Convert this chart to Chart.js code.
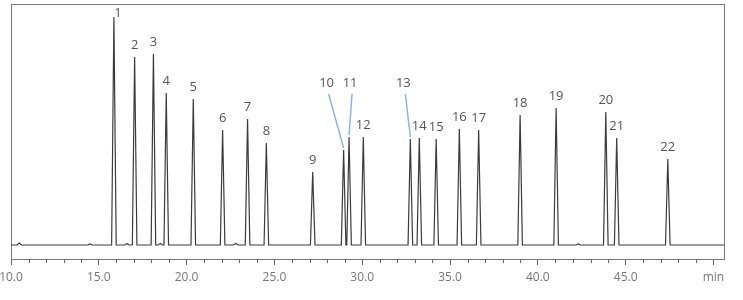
<!DOCTYPE html>
<html>
<head>
<meta charset="utf-8">
<script src="https://cdn.jsdelivr.net/npm/chart.js@4.4.0/dist/chart.umd.min.js"></script>
<style>
  html, body { margin: 0; padding: 0; background: #fff; }
  #wrap { width: 743px; height: 300px; }
</style>
</head>
<body>
<div id="wrap"><canvas id="chrom"></canvas></div>
<script>
// numbered peaks: retention time (min) and height (detector units)
const peakLabels = ['1', '2', '3', '4', '5', '6', '7', '8', '9', '10', '11',
    '12', '13', '14', '15', '16', '17', '18', '19', '20', '21', '22'];
const peakTimes = [15.86, 17.04, 18.11, 18.84, 20.38, 22.05, 23.47, 24.54, 27.18, 28.94, 29.25,
    30.06, 32.74, 33.25, 34.21, 35.53, 36.63, 38.99, 41.04, 43.87, 44.49, 47.40];
const peakHeights = [228, 188, 191, 152, 146, 115, 126, 102, 73, 95, 108,
    108, 106, 107, 106, 116, 115, 130, 137, 133, 107, 86];

// small unlabelled bumps on the baseline
const minorTimes = [10.47, 14.5, 16.6, 18.5, 22.8, 42.3];
const minorHeights = [2, 1, 1.5, 1.5, 1.5, 1];

const tickLabels = ['10.0', '15.0', '20.0', '25.0', '30.0', '35.0', '40.0', '45.0', 'min'];

const runStart = 10;
const runEnd = 50.6;
const halfWidth = 0.13; // half base width of a peak, min

// build the trace: baseline, then a narrow peak for each retention time
const allPeaks = peakTimes.map((t, i) => ({ t: t, h: peakHeights[i] }))
    .concat(minorTimes.map((t, i) => ({ t: t, h: minorHeights[i] })))
    .sort((a, b) => a.t - b.t);

const trace = [{ x: runStart, y: 0 }];
allPeaks.forEach(p => {
    trace.push({ x: p.t - halfWidth, y: 0 });
    trace.push({ x: p.t, y: p.h });
    trace.push({ x: p.t + halfWidth, y: 0 });
});
trace.push({ x: runEnd, y: 0 });

// label nudges in px; callouts get a leader line
const labelNudge = { '1': { dx: 4, dy: -4 } };
const callouts = {
    '10': { dx: -17, dy: -67 },
    '11': { dx: 1, dy: -54 },
    '13': { dx: -7, dy: -56 }
};

const framePlugin = {
    id: 'frame',
    beforeDatasetsDraw(chart) {
        const a = chart.chartArea;
        const ctx = chart.ctx;
        ctx.save();
        ctx.strokeStyle = '#7a7a7a';
        ctx.lineWidth = 1;
        ctx.strokeRect(Math.round(a.left) + 0.5, Math.round(a.top) + 0.5,
            Math.round(a.right - a.left), Math.round(a.bottom - a.top));
        // minor ticks every minute
        const xs = chart.scales.x;
        ctx.strokeStyle = '#666';
        ctx.beginPath();
        for (let v = runStart + 1; v < 50; v++) {
            if (v % 5 === 0) continue;
            const px = Math.round(xs.getPixelForValue(v)) + 0.5;
            ctx.moveTo(px, a.bottom);
            ctx.lineTo(px, a.bottom + 4);
        }
        ctx.stroke();
        ctx.restore();
    }
};

const peakLabelPlugin = {
    id: 'peakLabels',
    afterDatasetsDraw(chart) {
        const ctx = chart.ctx;
        const xs = chart.scales.x;
        const ys = chart.scales.y;
        ctx.save();
        ctx.font = '13px "Open Sans", sans-serif';
        ctx.textAlign = 'center';
        ctx.textBaseline = 'middle';
        peakLabels.forEach((lab, i) => {
            const px = xs.getPixelForValue(peakTimes[i]);
            const py = ys.getPixelForValue(peakHeights[i]);
            if (callouts[lab]) {
                const c = callouts[lab];
                const lx = px + c.dx;
                const ly = py + c.dy;
                ctx.strokeStyle = '#8fb4de';
                ctx.lineWidth = 1.5;
                ctx.beginPath();
                ctx.moveTo(lx + 2, ly + 11);
                ctx.lineTo(px, py - 2);
                ctx.stroke();
                ctx.fillStyle = '#555';
                ctx.fillText(lab, lx, ly);
            } else {
                const n = labelNudge[lab] || { dx: 0, dy: -12 };
                ctx.fillStyle = '#555';
                ctx.fillText(lab, px + n.dx, py + n.dy);
            }
        });
        ctx.restore();
    }
};

new Chart(document.getElementById('chrom'), {
    type: 'line',
    data: {
        datasets: [{
            data: trace,
            borderColor: '#3c3c3c',
            borderWidth: 1.2,
            pointRadius: 0,
            tension: 0,
            fill: false
        }]
    },
    options: {
        responsive: true,
        maintainAspectRatio: false,
        animation: false,
        layout: { padding: { left: 11, top: 4, right: 19, bottom: 0 } },
        plugins: { legend: { display: false }, tooltip: { enabled: false } },
        scales: {
            x: {
                type: 'linear',
                min: runStart,
                max: runEnd,
                border: { display: false },
                grid: {
                    drawOnChartArea: false,
                    drawTicks: true,
                    tickLength: 6,
                    tickColor: c => (c.tick && c.tick.value % 5 === 0) ? '#666' : 'rgba(0,0,0,0)'
                },
                ticks: {
                    stepSize: 1,
                    autoSkip: false,
                    includeBounds: false,
                    maxRotation: 0,
                    padding: 5,
                    color: '#777',
                    font: { family: '"Open Sans", sans-serif', size: 12 },
                    callback: v => v % 5 === 0 ? tickLabels[(v - runStart) / 5] : ''
                },
                afterFit: s => {
                    s.height = 41;
                    // let the edge labels hang over, keep frame where layout padding puts it
                    s.paddingLeft = 0;
                    s.paddingRight = 0;
                }
            },
            y: {
                display: false,
                min: -14,
                max: 241
            }
        }
    },
    plugins: [framePlugin, peakLabelPlugin]
});
</script>
</body>
</html>
